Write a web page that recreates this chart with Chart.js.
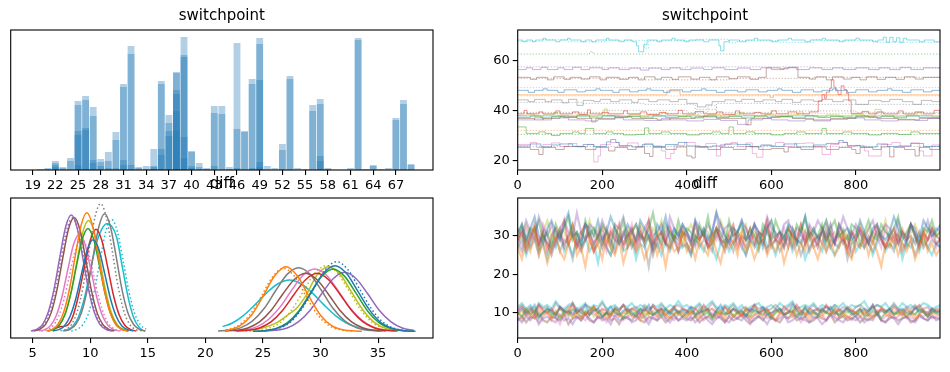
<!DOCTYPE html>
<html>
<head>
<meta charset="utf-8">
<script src="https://cdn.jsdelivr.net/npm/chart.js@4.4.1/dist/chart.umd.min.js"></script>
<style>
  body { margin: 0; background: #fff; }
  #painel { position: relative; width: 950px; height: 372px; }
  #painel canvas { position: absolute; }
</style>
</head>
<body>
<div id="painel">
  <canvas id="histSwitch" width="445" height="200" style="left:0;top:0"></canvas>
  <canvas id="traceSwitch" width="480" height="200" style="left:470px;top:0"></canvas>
  <canvas id="kdeDiff" width="445" height="204" style="left:0;top:168px"></canvas>
  <canvas id="traceDiff" width="480" height="204" style="left:470px;top:168px"></canvas>
</div>
<script>
// ---- switchpoint: histograma por cadeia (camadas sobrepostas, ordenadas da mais alta) ----
var switchValores = [20,21,22,23,24,25,26,27,28,29,30,31,32,33,34,35,36,37,38,39,40,41,42,43,44,45,46,47,48,49,50,51,52,53,54,55,56,57,58,59,60,61,62,63,64,65,66,67,68,69];
var switchCamada1 = [3,6,27,9,36,207,222,189,33,54,114,258,372,9,12,63,267,165,294,399,57,21,6,192,192,9,381,117,273,396,12,6,78,282,6,3,195,213,6,0,0,6,396,3,15,3,6,156,210,18];
var switchCamada2 = [0,3,21,6,27,195,210,162,24,27,90,249,348,6,3,12,258,141,291,345,54,9,3,171,168,3,123,114,258,378,0,0,60,273,0,0,177,198,3,0,0,0,390,0,12,0,0,150,198,15];
var switchCamada3 = [0,0,15,0,0,117,126,30,12,5,5,30,15,0,0,9,63,117,240,339,12,0,0,12,0,0,6,0,6,270,0,0,0,0,0,0,0,42,0,0,0,0,0,0,0,0,0,0,0,0];
var switchCamada4 = [0,0,9,0,0,105,120,21,0,0,0,15,0,0,0,3,45,102,228,99,6,0,0,0,0,0,0,0,0,24,0,0,0,0,0,0,0,27,0,0,0,0,0,0,0,0,0,0,0,0];
var switchCamada5 = [0,0,0,0,0,15,0,0,0,0,0,0,0,0,0,0,0,0,177,35,0,0,0,0,0,0,0,0,0,9,0,0,0,0,0,0,0,0,0,0,0,0,0,0,0,0,0,0,0,0];
var switchCamada6 = [0,0,0,0,0,0,0,0,0,0,0,0,0,0,0,0,0,0,117,0,0,0,0,0,0,0,0,0,0,0,0,0,0,0,0,0,0,0,0,0,0,0,0,0,0,0,0,0,0,0];
var switchTicks = [19,22,25,28,31,34,37,40,43,46,49,52,55,58,61,64,67];

// ---- switchpoint: traco de cada cadeia, pares [draw, valor] nos pontos de mudanca ----
var swCianoA = [[0,68.3],[12,67.6],[20,68.3],[35,67.6],[42,68.3],[60,69],[66,68.3],[90,67.6],[100,68.3],[118,69],[124,68.3],[150,67.6],[160,68.3],[175,67.6],[185,68.3],[210,69],[216,68.3],[240,67.6],[252,68.3],[270,67.6],[281,66],[286,63.6],[298,66.4],[306,68.3],[330,67.6],[340,68.3],[365,69],[372,68.3],[395,67.6],[405,68.3],[440,67.6],[452,68.3],[476,66],[480,64],[488,67.6],[500,68.3],[525,67.6],[540,68.3],[560,69],[568,68.3],[600,67.6],[615,68.3],[640,69],[648,68.3],[680,67.6],[692,68.3],[720,69],[728,68.3],[760,67.6],[772,68.3],[800,69],[808,68.3],[840,67.6],[852,68.3],[865,69.4],[872,67.4],[880,69.4],[888,67.6],[896,69.2],[904,67.4],[912,69],[920,68.3],[950,67.6],[962,68.3],[985,67.6],[999,67.6]];
var swCianoB = [[0,67.8],[60,68.4],[120,67.6],[210,68.2],[300,65],[310,68],[420,68.6],[500,67.2],[520,68],[620,67.4],[700,68.4],[720,68],[850,67.4],[999,68]];
var swVerdeA = [[0,62.7],[170,63.6],[178,62.7],[999,62.7]];
var swRoxoA = [[0,56.5],[20,57.2],[35,56.5],[55,57.4],[70,56.5],[95,57.2],[110,56.5],[130,57.4],[150,56.5],[170,57.2],[200,56.5],[215,57.2],[240,56.5],[265,57.1],[290,56.3],[310,57.1],[340,56.5],[360,57.2],[385,56.5],[410,57.1],[440,56.5],[460,57.2],[490,56.5],[520,57.1],[550,56.5],[575,57.2],[600,56.5],[630,57.2],[660,56.5],[690,57.2],[720,56.5],[745,57.2],[770,56.5],[800,57.2],[830,56.5],[855,57.2],[880,56.5],[905,57.4],[930,56.5],[960,57.2],[999,56.6]];
var swRoxoB = [[0,57.6],[200,57.2],[400,57.6],[700,57.2],[999,57.4]];
var swMarromA = [[0,53.4],[30,52.6],[45,53.4],[70,52.4],[85,53.6],[110,52.6],[125,53.4],[150,52.7],[170,53.6],[195,52.4],[210,53.4],[240,52.6],[262,53.4],[285,52.4],[300,53.6],[325,52.7],[340,53.4],[365,52.6],[380,53.6],[410,52.7],[430,53.4],[455,52.4],[470,53.6],[500,52.8],[520,53.6],[550,52.6],[570,53.4],[588,57.2],[620,56.8],[640,57.4],[663,53.4],[690,52.7],[705,53.6],[730,52.4],[745,53.6],[770,52.7],[790,53.4],[810,52.4],[825,53.6],[850,52.6],[870,53.4],[895,52.6],[915,53.6],[940,52.7],[960,53.4],[999,53.4]];
var swMarromB = [[0,53],[300,52.4],[500,53],[700,53.4],[999,52.8]];
var swRosaA = [[0,49.3],[999,49.3]];
var swAzulA = [[0,48.2],[25,47.4],[40,48.2],[60,48.8],[70,48.2],[95,47.4],[110,48.4],[140,47.6],[160,48.2],[185,48.8],[195,48.2],[225,47.4],[240,48.4],[265,47.6],[285,48.2],[305,48.8],[315,48.2],[345,47.4],[360,48.4],[390,47.6],[410,48.2],[435,48.8],[445,48.2],[470,47.4],[490,48.2],[520,47.6],[540,48.4],[570,47.6],[590,48.2],[615,48.8],[625,48.2],[650,47.4],[670,48.4],[700,47.6],[720,48.2],[745,48.8],[755,48.2],[780,47.4],[800,48.4],[830,47.6],[850,48.2],[875,48.8],[885,48.2],[910,47.4],[930,48.4],[960,47.6],[980,48.2],[999,48]];
var swLaranjaA = [[0,46.4],[353,48],[384,46.4],[597,45.4],[605,46.4],[999,46.4]];
var swLaranjaB = [[0,46],[999,46]];
var swCinzaA = [[0,44.4],[25,43.7],[40,44.6],[65,43.7],[80,44.4],[105,43.2],[120,44.6],[140,42.2],[155,44.2],[180,43.7],[195,44.6],[220,43.7],[240,44.4],[270,43.4],[285,44.6],[310,43.7],[330,44.4],[360,43.7],[380,44.6],[400,43],[425,41.6],[445,42.4],[460,43.7],[490,44.4],[515,43.7],[530,44.6],[560,43.7],[580,44.4],[610,43.7],[625,44.6],[650,43.4],[670,44.4],[700,43.8],[720,44.6],[745,43.7],[770,44.4],[800,42.6],[830,44.2],[860,43.7],[880,44.6],[910,43.7],[935,42.6],[955,44.2],[980,43.7],[999,44.4]];
var swCinzaB = [[0,43.4],[150,43],[300,42.6],[420,40.6],[470,43],[650,42.6],[999,43]];
var swVermelhoA = [[0,38.8],[15,40.2],[22,38.8],[50,39.6],[60,38.8],[90,40],[100,38.8],[130,39.6],[145,38.6],[165,40.4],[172,38.8],[200,39.4],[215,38.8],[250,40],[260,38.8],[290,39.6],[305,38.6],[335,39.4],[350,38.8],[380,40.2],[390,38.8],[420,39.8],[440,38.8],[470,39.6],[485,38.6],[515,40],[525,38.8],[560,39.4],[575,38.8],[600,40],[612,38.8],[640,39.6],[660,38.8],[690,39.6],[711,44],[720,46.5],[726,45],[730,47.5],[738,49],[742,52.4],[748,49.5],[752,48],[758,46.5],[765,50],[772,48.5],[778,47],[783,44],[789,39],[815,39.8],[830,38.8],[850,39.6],[865,38.8],[900,40],[912,38.8],[940,39.6],[960,38.8],[985,40.2],[999,38.8]];
var swOlivaA = [[0,38.2],[20,38.8],[40,37.6],[60,38.4],[85,39.4],[95,38.2],[120,37.6],[140,38.6],[170,37.8],[190,38.4],[205,40.8],[212,38.2],[240,37.6],[265,38.6],[290,37.8],[310,38.4],[340,39.2],[355,38.2],[380,37.6],[400,38.4],[430,37.8],[450,38.6],[480,37.6],[500,38.4],[525,39.4],[535,38.2],[560,37.6],[585,38.6],[610,37.8],[640,38.4],[665,39.6],[675,38.2],[700,37.6],[730,38.4],[760,37.6],[790,38.6],[820,37.8],[845,40.6],[860,38.2],[890,37.6],[920,38.4],[945,39.4],[955,38.2],[980,37.6],[999,38.4]];
var swCianoC = [[0,38],[999,38]];
var swVerdeB = [[0,37.4],[30,38],[55,37.2],[80,37.8],[110,37.4],[140,38],[170,37.2],[200,38],[230,37.4],[260,37.8],[290,37.2],[320,38],[350,37.4],[380,37.8],[410,37.2],[440,38],[470,37.4],[500,37.8],[530,37.2],[560,38],[590,37.4],[620,37.8],[650,37.2],[680,38],[710,37.4],[740,37.8],[770,37.2],[800,38],[830,37.4],[860,37.8],[890,37.2],[920,38],[950,37.4],[999,37.8]];
var swLaranjaC = [[0,39],[999,39]];
var swCinzaD = [[0,39.4],[200,40.2],[400,39.4],[450,42],[470,39.4],[600,40],[800,39.4],[999,39.4]];
var swRoxoC = [[0,36.4],[40,37.2],[60,36.4],[80,37.2],[120,36.4],[160,36],[190,36.6],[230,37.2],[250,36.4],[300,36.2],[340,37],[360,36.4],[400,36],[440,36.6],[480,36.2],[520,34.6],[545,36.4],[580,37],[600,36.4],[640,36],[680,36.6],[700,36],[740,36.6],[780,37.2],[820,36.4],[860,36],[900,36.6],[940,36.2],[970,37],[999,36.4]];
var swMarromD = [[0,37],[40,36.4],[60,37],[100,37.6],[140,37],[175,35.6],[185,37],[230,37.6],[270,37],[330,36.4],[360,37],[420,37.6],[470,37],[540,34.4],[552,37],[600,37.6],[650,37],[700,36.4],[740,37],[800,37.6],[850,37],[900,36.4],[950,37],[999,37]];
var swLaranjaD = [[0,32.2],[999,32.2]];
var swVerdeC = [[0,33.6],[20,31],[50,31.6],[65,31],[80,30.2],[100,31],[130,31.6],[145,31],[160,33],[180,31],[210,31.6],[225,31],[250,30.4],[280,30.6],[300,33.2],[310,31],[340,31.6],[360,31],[400,30.4],[430,31],[460,31.6],[480,31],[500,33.6],[510,31],[540,31.6],[560,31],[600,30.4],[630,31],[660,31.6],[680,31],[700,31],[720,33],[730,31],[770,31.6],[790,31],[830,30.4],[860,31],[900,30.6],[930,31.6],[950,31],[999,31]];
var swVerdeD = [[0,30.6],[999,30.6]];
var swRosaB = [[0,26.6],[30,27.4],[45,25.4],[60,26.6],[80,27.2],[100,25.8],[120,27],[140,25.6],[165,26.6],[180,19.6],[190,22],[196,26.6],[220,27.4],[240,25.8],[260,27.2],[285,25.8],[300,27],[320,26],[340,24],[350,21],[362,23],[370,26.2],[395,27.4],[420,25.6],[445,27],[470,22],[480,26.6],[505,27.4],[520,25.8],[540,27.2],[555,23],[565,21.5],[580,26.2],[610,27.4],[630,25.8],[655,27],[680,27.2],[700,25.8],[720,22.6],[740,26.6],[760,27.4],[780,25.8],[800,26.2],[820,24],[830,22],[860,26.6],[885,27.4],[905,25.8],[930,27.2],[950,24],[960,22],[980,26.4],[999,26.4]];
var swAzulB = [[0,26],[30,26.8],[55,25.6],[80,26.4],[100,26.8],[130,25.8],[155,26.6],[180,25.8],[210,27.6],[220,28.6],[232,27.4],[240,26.2],[270,25.6],[295,26.6],[320,25.8],[350,26.6],[380,27.4],[400,26],[430,25.6],[460,26],[490,26.8],[520,26.6],[550,25.6],[575,26.4],[600,25.8],[630,26.8],[660,25.6],[700,26.4],[730,27],[760,28.2],[770,27.4],[780,26.2],[810,25.6],[850,26.8],[875,25.8],[900,26],[930,27],[960,25.8],[999,26.4]];
var swMarromC = [[0,25.4],[30,24.6],[50,22.6],[60,25.4],[90,24.6],[110,25.8],[130,25.8],[160,24.6],[185,25.4],[215,24],[230,25.4],[260,24.6],[280,25.6],[300,23],[312,21.8],[320,25.4],[350,24.6],[375,25.6],[400,22],[412,21.2],[420,25.6],[450,24.6],[480,25.4],[510,24.6],[540,25.8],[570,24.6],[600,25],[630,23.6],[640,25.4],[670,24.6],[700,25.6],[730,24.6],[760,25.4],[790,24.6],[800,23],[810,25.4],[840,24.6],[860,25.6],[880,21.6],[890,25.4],[915,24.6],[940,22],[950,25.4],[975,24.6],[999,25.6]];
var swCinzaC = [[0,25.8],[999,25.8]];
var traceTicksX = [0,200,400,600,800];
var switchTicksY = [20,40,60];

// ---- diff: KDE por cadeia, pares [x, densidade relativa] ----
var kdeRoxoE = [[4.85,1],[5.35,6],[5.85,20],[6.35,57],[6.85,125],[7.35,220],[7.85,310],[8.35,347],[8.85,310],[9.35,220],[9.85,125],[10.35,57],[10.85,20],[11.35,6],[11.85,1]];
var kdeRoxoEPont = [[4.95,1],[5.45,6],[5.95,20],[6.45,55],[6.95,122],[7.45,215],[7.95,302],[8.45,338],[8.95,302],[9.45,215],[9.95,122],[10.45,55],[10.95,20],[11.45,6],[11.95,1]];
var kdeMarromE = [[5.1,1],[5.6,6],[6.1,20],[6.6,55],[7.1,122],[7.6,216],[8.1,304],[8.6,340],[9.1,304],[9.6,216],[10.1,122],[10.6,55],[11.1,20],[11.6,6],[12.1,1]];
var kdeRosaE = [[5.55,1],[6.05,5],[6.55,17],[7.05,47],[7.55,104],[8.05,184],[8.55,259],[9.05,290],[9.55,259],[10.05,184],[10.55,104],[11.05,47],[11.55,17],[12.05,5],[12.55,1]];
var kdeRosaEPont = [[5.75,1],[6.25,5],[6.75,16],[7.25,45],[7.75,99],[8.25,175],[8.75,246],[9.25,275],[9.75,246],[10.25,175],[10.75,99],[11.25,45],[11.75,16],[12.25,5],[12.75,1]];
var kdeLaranjaE = [[6.2,1],[6.7,6],[7.2,21],[7.7,58],[8.2,127],[8.7,225],[9.2,316],[9.7,354],[10.2,316],[10.7,225],[11.2,127],[11.7,58],[12.2,21],[12.7,6],[13.2,1]];
var kdeOlivaE = [[6.35,1],[6.85,6],[7.35,20],[7.85,54],[8.35,119],[8.85,210],[9.35,296],[9.85,331],[10.35,296],[10.85,210],[11.35,119],[11.85,54],[12.35,20],[12.85,6],[13.35,1]];
var kdeVerdeE = [[6.3,1],[6.8,5],[7.3,18],[7.8,50],[8.3,111],[8.8,195],[9.3,274],[9.8,307],[10.3,274],[10.8,195],[11.3,111],[11.8,50],[12.3,18],[12.8,5],[13.3,1]];
var kdeAzulE = [[6.75,1],[7.25,5],[7.75,16],[8.25,45],[8.75,98],[9.25,173],[9.75,244],[10.25,273],[10.75,244],[11.25,173],[11.75,98],[12.25,45],[12.75,16],[13.25,5],[13.75,1]];
var kdeVermelhoE = [[7.0,10],[7.5,14],[8.0,18],[8.5,46],[9.0,110],[9.5,194],[10.0,272],[10.5,305],[11.0,272],[11.5,194],[12.0,110],[12.5,50],[13.0,18],[13.5,5],[14.0,1]];
var kdeCinzaE = [[7.75,1],[8.25,6],[8.75,21],[9.25,57],[9.75,126],[10.25,223],[10.75,313],[11.25,351],[11.75,313],[12.25,223],[12.75,126],[13.25,57],[13.75,21],[14.25,6],[14.75,1]];
var kdeCinzaEPont = [[7.4,2],[7.9,6],[8.4,22],[8.9,62],[9.4,137],[9.9,242],[10.4,340],[10.9,381],[11.4,340],[11.9,242],[12.4,137],[12.9,62],[13.4,22],[13.9,6],[14.4,2],[14.9,1]];
var kdeCianoE = [[7.6,1],[8.0,5],[8.5,16],[9.0,45],[9.5,100],[10.0,180],[10.5,258],[11.0,305],[11.45,321],[11.9,312],[12.3,280],[12.8,190],[13.3,100],[13.8,38],[14.3,10],[14.6,2]];
var kdeCianoEPont = [[8.35,1],[8.85,6],[9.35,20],[9.85,54],[10.35,120],[10.85,212],[11.35,298],[11.85,334],[12.35,298],[12.85,212],[13.35,120],[13.85,54],[14.35,20],[14.85,6]];

var kdeLaranjaD = [[21.7,3],[22,4],[23,16],[24,48],[25,104],[26,165],[27,193],[28,165],[29,104],[30,48],[31,16],[32,4],[33,1],[33.6,0]];
var kdeLaranjaDPont = [[21.8,4],[22.8,16],[23.8,47],[24.8,101],[25.8,161],[26.8,188],[27.8,161],[28.8,101],[29.8,47],[30.8,16],[31.8,4],[32.8,1]];
var kdeCinzaD = [[21.1,1],[22.1,3],[23.1,11],[24.1,31],[25.1,68],[26.1,121],[27.1,170],[28.1,190],[29.1,170],[30.1,121],[31.1,68],[32.1,31],[33.1,11],[34.1,3],[35.1,1]];
var kdeMarromD = [[21.7,1],[22.7,3],[23.7,10],[24.7,28],[25.7,62],[26.7,110],[27.7,154],[28.7,173],[29.7,154],[30.7,110],[31.7,62],[32.7,28],[33.7,10],[34.7,3],[35.7,1]];
var kdeCianoD = [[21.5,14],[22.3,24],[23.3,47],[24.3,79],[25.3,114],[26.3,142],[27.3,153],[28.3,142],[29.3,114],[30.3,79],[31.3,47],[32.3,24],[33.3,11],[34.3,4],[35.3,1]];
var kdeVermelhoD = [[22.7,1],[23.7,3],[24.7,10],[25.7,28],[26.7,62],[27.7,110],[28.7,154],[29.7,173],[30.7,154],[31.7,110],[32.7,62],[33.7,28],[34.7,10],[35.7,3],[36.7,1]];
var kdeRosaD = [[22.5,1],[23.5,4],[24.5,14],[25.5,36],[26.5,73],[27.5,123],[28.5,168],[29.5,186],[30.5,168],[31.5,123],[32.5,73],[33.5,36],[34.5,14],[35.5,4],[36.5,1]];
var kdeOlivaD = [[23.2,2],[24.2,5],[25.2,12],[26.2,26],[27.2,50],[27.9,68],[28.7,105],[29.7,168],[30.7,193],[31.7,170],[32.7,117],[33.7,63],[34.7,26],[35.7,8],[36.7,2]];
var kdeOlivaDPont = [[23.5,0],[24.5,2],[25.5,9],[26.5,26],[27.5,64],[28.5,119],[29.5,173],[30.5,196],[31.5,173],[32.5,119],[33.5,64],[34.5,26],[35.5,9],[36.5,2]];
var kdeVerdeD = [[24.1,0],[25.1,2],[26.1,8],[27.1,25],[28.1,60],[29.1,113],[30.1,164],[31.1,186],[32.1,164],[33.1,113],[34.1,60],[35.1,25],[36.1,8],[37.1,2],[38.1,0]];
var kdeAzulD = [[24.25,0],[25.25,2],[26.25,9],[27.25,26],[28.25,64],[29.25,119],[30.25,173],[31.25,196],[32.25,173],[33.25,119],[34.25,64],[35.25,26],[36.25,9],[37.25,2],[38.25,0]];
var kdeAzulDPont = [[25.4,2],[26.4,9],[27.4,28],[28.4,68],[29.4,126],[30.4,183],[31.4,208],[32.4,183],[33.4,126],[34.4,68],[35.4,28],[36.4,9],[37.4,2]];
var kdeRoxoD = [[25.1,1],[26.1,3],[27.1,10],[28.1,29],[29.1,63],[30.1,112],[31.1,157],[32.1,176],[33.1,157],[34.1,112],[35.1,63],[36.1,29],[37.1,10],[38.1,3]];
var kdeTicksX = [5,10,15,20,25,30,35];

// ---- diff: traco de cada cadeia, um valor a cada 10 draws ----
var diffDraws = [0,10,20,30,40,50,60,70,80,90,100,110,120,130,140,150,160,170,180,190,200,210,220,230,240,250,260,270,280,290,300,310,320,330,340,350,360,370,380,390,400,410,420,430,440,450,460,470,480,490,500,510,520,530,540,550,560,570,580,590,600,610,620,630,640,650,660,670,680,690,700,710,720,730,740,750,760,770,780,790,800,810,820,830,840,850,860,870,880,890,900,910,920,930,940,950,960,970,980,990,1000];
var diffSup0 = [31,33,29,32,35,30,28,32,34,31,29,33,36,30,31,28,33,32,30,34,29,31,35,32,28,30,33,31,29,34,32,30,27,33,31,35,29,32,30,33,31,28,34,30,32,29,31,36,33,30,28,32,31,34,29,30,33,31,27,32,34,30,31,29,33,32,28,31,35,30,32,29,31,34,30,28,33,31,32,29,30,34,31,28,32,33,30,29,31,35,32,30,28,33,31,29,34,32,30,31,33];
var diffSup1 = [27,24,29,26,31,25,28,23,27,30,26,24,28,32,25,27,22,29,26,28,24,30,27,25,29,23,27,31,26,28,24,27,30,25,28,22,29,26,27,31,26,28,24,29,27,25,30,26,23,28,27,29,25,31,26,28,24,27,30,25,28,26,29,23,27,30,25,28,26,32,27,24,28,26,29,25,27,31,26,24,28,27,30,25,29,26,22,28,27,30,25,28,26,29,24,27,31,26,28,25,27];
var diffSup2 = [30,33,28,32,31,34,29,31,27,33,30,32,35,29,31,28,34,30,32,29,33,31,27,32,30,34,28,31,33,30,29,32,36,30,28,33,31,29,34,30,32,31,28,33,30,35,29,32,31,28,34,30,31,33,29,32,30,27,33,31,29,34,31,30,32,28,33,31,35,29,31,30,33,28,32,34,30,31,29,33,32,28,31,34,30,29,33,31,30,32,35,29,31,33,30,28,32,31,34,30,31];
var diffSup3 = [29,32,27,30,33,28,31,26,30,32,29,34,28,30,27,31,33,29,26,30,32,28,31,29,33,27,30,32,28,31,29,34,27,30,31,28,32,29,26,31,30,28,33,29,31,27,30,32,29,28,31,33,27,30,29,32,28,31,30,34,28,29,31,27,32,30,29,33,28,31,30,27,32,29,31,28,33,30,26,31,29,32,30,28,31,33,29,27,30,32,28,31,29,33,30,27,31,29,32,30,29];
var diffSup4 = [32,30,34,31,29,35,32,30,33,28,32,34,31,30,36,31,29,33,32,30,34,31,28,33,32,35,30,31,33,29,32,34,30,31,33,29,35,32,30,33,31,29,34,32,30,33,31,36,29,32,33,30,31,34,32,29,33,31,30,35,32,31,29,33,34,30,32,31,28,33,31,34,32,30,33,29,31,35,32,30,33,31,29,32,34,30,31,33,32,29,34,31,30,33,32,28,31,34,30,32,31];
var diffSup5 = [28,31,26,29,32,27,30,28,25,29,31,27,30,33,28,26,29,31,28,30,27,32,29,26,30,28,31,27,29,32,28,30,25,29,31,28,27,30,29,32,28,26,30,29,31,27,28,32,29,26,30,28,31,29,27,30,33,28,29,26,31,29,28,30,27,32,29,28,31,26,29,30,28,32,27,29,31,28,30,25,29,31,27,30,28,32,29,27,30,28,31,26,29,30,28,31,27,29,32,28,29];
var diffSup6 = [30,27,32,29,31,28,33,30,26,29,32,28,30,31,27,29,33,30,28,31,29,26,32,30,28,31,29,33,27,30,29,32,28,30,27,31,33,29,28,30,31,29,27,32,30,28,31,29,33,30,28,31,30,27,32,29,30,28,31,33,29,30,28,32,29,27,31,30,29,32,28,30,31,29,33,28,30,29,27,31,30,32,28,29,31,30,27,32,29,30,28,31,29,33,30,28,31,29,30,27,30];
var diffSup7 = [28,26,30,27,29,25,31,28,27,30,26,29,28,24,30,27,29,31,26,28,30,27,25,29,28,31,27,29,26,30,28,22,29,27,30,28,26,29,31,27,28,25,30,27,29,28,26,31,28,27,29,26,30,28,25,29,27,30,28,32,27,29,26,28,30,27,29,25,28,30,27,28,31,26,29,28,27,30,24,28,29,27,30,28,26,29,31,27,28,26,30,28,27,29,25,28,30,27,29,28,27];
var diffSup8 = [31,29,33,30,32,28,31,34,30,29,32,31,28,33,30,31,29,34,30,32,28,31,30,33,29,31,32,28,30,33,31,29,32,30,34,29,31,30,32,28,31,33,30,29,32,31,28,30,34,31,29,32,30,31,33,28,31,30,29,32,34,30,31,29,32,30,28,33,31,30,32,29,31,34,30,31,29,32,30,28,31,33,30,32,29,31,30,34,28,31,30,32,29,31,33,30,28,32,31,30,31];
var diffSup9 = [27,29,25,28,30,26,28,24,29,27,31,26,28,25,29,27,30,26,28,23,29,27,25,28,30,26,27,29,24,28,27,30,26,28,25,29,27,31,26,28,27,25,29,28,26,30,27,24,28,29,26,28,30,27,25,29,28,26,31,27,28,25,29,27,30,26,28,29,24,27,29,28,26,30,27,25,28,29,27,31,26,28,27,29,25,28,30,26,28,27,29,24,28,27,30,26,29,27,25,28,27];
var diffInf0 = [10,11,9.5,10.5,12,9,10,11,10.5,9,11.5,10,10.5,9.5,11,10,12,9.5,10.5,11,9,10,11.5,10,9.5,10.5,11,10,9,11,10.5,12,9.5,10,11,10.5,9.5,11,10,10.5,10,11.5,9.5,10,10.5,11,9,10.5,12,10,9.5,11,10,10.5,9,11,10.5,10,11.5,9.5,10,10.5,11,9.5,10,12,10.5,9,11,10,10.5,9.5,11,10,11.5,10,9.5,10.5,11,10,9,10.5,11,10,12,9.5,10.5,10,11,9.5,10.5,11,10,9.5,11.5,10,10.5,9,11,10,10.5];
var diffInf1 = [9.5,10.5,9,10,8.5,11,9.5,10,8,10.5,9,9.5,11,9,10,8.5,10,9.5,11.5,9,10,8.5,9.5,10.5,9,10,11,9,9.5,8,10,9.5,10.5,9,11,9.5,8.5,10,9.5,10,9,10.5,9.5,8.5,10,11,9,9.5,10,8.5,10.5,9,10,9.5,11,8.5,9.5,10,9,10.5,9.5,8,10,9.5,10.5,9,11,9.5,10,8.5,10,9.5,9,10.5,9.5,11,9,10,8.5,9.5,10,9,10.5,9.5,8.5,10,11,9.5,9,10,9.5,10.5,9,10,8.5,9.5,10.5,9,10,9.5,9.5];
var diffInf2 = [10,9,11,9.5,10.5,8.5,10,11,9.5,10,8.5,10.5,9.5,11,10,9,10.5,9.5,11.5,10,9,10,9.5,11,10,8.5,10.5,9.5,10,11,9,10,9.5,10.5,9,11,10,9.5,10.5,9,10,10.5,9,11,9.5,10,8.5,10.5,10,9.5,11,9,10,10.5,9.5,9,11,10,9.5,10.5,8.5,10,11,9.5,10,10.5,9,10,11.5,9.5,10,9,10.5,10,9.5,11,9,10,10.5,9.5,10,11,9,9.5,10.5,10,8.5,10,11,9.5,10,10.5,9,10,9.5,11,10,9,10.5,10,9.5];
var diffInf3 = [10.5,11.5,10,11,9.5,12,10.5,10,11,9.5,11.5,10.5,10,12.5,10,11,9.5,10.5,11.5,10,11,10.5,9,11,10.5,12,10,11,10.5,9.5,11,10,12,10.5,11,9.5,10.5,11.5,10,11,10.5,9.5,11,10,12,10.5,11,10,9.5,11.5,10,11,10.5,9,11,10.5,12,10,10.5,11,9.5,11,10,11.5,10.5,10,12,10.5,9.5,11,10.5,11,10,12,10.5,9.5,11,10,11.5,10.5,10,11,9.5,10.5,12,10,11,10.5,10,11.5,10.5,9.5,11,10,11,12,10.5,10,11,10.5,10.5];
var diffInf4 = [8.5,7.5,9,8,9.5,7,8.5,9,8,7.5,9.5,8,8.5,7,9,8,10,8.5,7.5,9,8,8.5,7,9.5,8,8.5,9,7.5,8,9,8.5,7,9,8,10,8.5,7.5,9,8,8.5,8,9,7.5,8.5,9.5,8,7,8.5,9,8,7.5,9,8.5,8,9.5,7.5,8,9,8.5,7,9,8,8.5,9.5,7.5,8,9,8.5,8,7.5,9,8.5,7,8,9.5,8.5,8,7.5,9,8.5,8,9,7.5,8.5,8,10,8,7.5,9,8.5,7,8.5,9,8,7.5,9,8.5,8,9.5,8,8.5];
var diffInf5 = [8,9,7.5,9,8.5,10,8,7.5,9,8.5,8,9.5,7,8.5,9,8,9.5,8,7.5,9,8.5,10,8,8.5,7,9,8.5,8,9.5,8,7.5,9,8.5,8,9,7.5,8.5,9.5,8,9,8.5,8,9,7.5,8.5,9,8,9.5,8.5,7.5,9,8,8.5,9.5,8,7,8.5,9,8,9.5,8.5,8,7.5,9,8.5,10,8,8.5,9,7.5,8,9,8.5,8,9.5,7.5,8.5,9,8,8.5,9,7.5,8.5,8,9,9.5,8,7.5,8.5,9,8,8.5,9,7.5,8,9.5,8.5,8,9,8.5,8.5];
var diffInf6 = [9,8,10,8.5,9.5,7.5,9,10,8.5,9,7,9.5,9,10.5,8.5,9,8,9.5,10,8.5,9,7.5,9.5,9,10,8,9,9.5,8.5,10,9,8,9.5,9,10.5,8.5,9,8,9.5,9,10,8.5,9,9.5,8,9,10,8.5,9.5,7.5,9,9.5,8.5,10,9,8,9.5,9,10.5,8.5,9,8,9.5,10,8.5,9,9.5,7.5,9,10,8.5,9,9.5,8,10,9,8.5,9.5,9,8,10,9,8.5,9.5,9,10.5,8,9,9.5,8.5,9,10,8.5,9,8,9.5,9,10,8.5,9,9];
var diffInf7 = [11,12,10.5,11.5,10,12,11,11.5,10,12.5,11,10.5,11.5,12,10,11,12,11.5,10.5,11,12.5,11,10,11.5,11,12,10.5,11,11.5,10,12,11,11.5,10.5,12,11,10,11.5,12,11,10.5,11.5,11,12,10,11,12.5,11,10.5,11.5,11,12,10.5,11,11.5,10,12,11,11.5,10.5,11,12,11,10.5,11.5,12.5,11,10,11.5,11,12,10.5,11,11.5,11,12,10.5,11.5,11,10,11.5,12,11,10.5,11,12,11.5,10.5,11,12.5,11,10.5,11.5,11,12,10.5,11,11.5,10,11,11];
var diffInf8 = [10,9,10.5,9.5,11,9,10,10.5,9,10,11,9.5,10,8.5,10.5,10,9.5,11,9,10,10.5,9.5,10,11,9,10,9.5,10.5,10,9,11,10,9.5,10,10.5,9,10,11,9.5,10,9,10.5,10,9.5,11,10,9,10,10.5,9.5,10,11,9.5,10,9,10.5,10,9.5,11,10,9,10,10.5,9.5,10,11,9.5,10,9,10.5,10,9.5,11,10,9.5,10,10.5,9,10,11,9.5,10,10.5,9,10,9.5,11,10,9.5,10.5,10,9,10,10.5,9.5,11,10,9.5,10,10.5,10];
var diffInf9 = [11.5,12.5,11,12,10.5,12.5,11.5,12,11,13,11.5,11,12,12.5,11,11.5,12.5,11,12,11.5,13,11,11.5,12,10.5,12,11.5,12.5,11,12,11.5,10.5,12,11.5,12.5,11,12,11.5,13,11.5,12,11,11.5,12.5,11,12,13,11.5,11,12,11.5,12.5,11,12,10.5,11.5,12,12.5,11,11.5,12,11,12.5,11.5,12,13,11,11.5,12,11.5,12.5,11,12,11.5,10.5,12,11.5,12.5,11,12,11.5,12,13,11,11.5,12,11.5,12.5,11,12,11,12.5,11.5,12,11,11.5,12.5,12,11,11.5,12];
var diffTicksY = [10,20,30];

var Painel = Painel || {};

Painel.estilo = (function() {

	var tab10 = ['31,119,180','255,127,14','44,160,44','214,39,40','148,103,189','140,86,75','227,119,194','127,127,127','188,189,34','23,190,207'];

	function cor(i, alfa) {
		return 'rgba(' + tab10[i] + ',' + alfa + ')';
	}

	// caixa completa em volta da area do grafico, como no matplotlib
	var moldura = {
		id: 'moldura',
		afterDraw: function(chart) {
			var a = chart.chartArea, ctx = chart.ctx;
			ctx.save();
			ctx.strokeStyle = '#000';
			ctx.lineWidth = 1.1;
			ctx.strokeRect(a.left, a.top, a.right - a.left, a.bottom - a.top);
			ctx.restore();
		}
	};

	function eixo(min, max, ticks, lado, espaco) {
		return {
			type: 'linear', min: min, max: max, offset: false,
			afterBuildTicks: function(s) {
				s.ticks = ticks.map(function(v) { return { value: v }; });
			},
			afterFit: function(s) {
				if (lado === 'x') { s.height = espaco; } else { s.width = espaco; }
			},
			grid: { display: true, drawOnChartArea: false, drawTicks: true, tickLength: 5, color: '#000', lineWidth: 1.1, offset: false },
			border: { display: false },
			ticks: { color: '#000', padding: 3, font: { size: 13 }, maxRotation: 0, autoSkip: false }
		};
	}

	function eixoOculto(min, max) {
		return { type: 'linear', min: min, max: max, display: false };
	}

	function opcoes(titulo, eixoX, eixoY, padding) {
		return {
			responsive: false,
			animation: false,
			devicePixelRatio: 1,
			layout: { padding: padding },
			plugins: {
				legend: { display: false },
				tooltip: { enabled: false },
				title: {
					display: true, text: titulo, color: '#000',
					font: { size: 15, weight: 'normal' },
					padding: { top: 7, bottom: 5 }
				}
			},
			scales: { x: eixoX, y: eixoY }
		};
	}

	function pontos(pares) {
		return pares.map(function(p) { return { x: p[0], y: p[1] }; });
	}

	return { cor: cor, moldura: moldura, eixo: eixo, eixoOculto: eixoOculto, opcoes: opcoes, pontos: pontos };

}());

(function() {
	var E = Painel.estilo;
	Chart.defaults.font.family = 'DejaVu Sans';
	Chart.defaults.font.size = 13;
	Chart.defaults.color = '#000';

	// histograma switchpoint
	var camadas = [switchCamada1, switchCamada2, switchCamada3, switchCamada4, switchCamada5, switchCamada6];
	new Chart(document.getElementById('histSwitch'), {
		type: 'bar',
		data: {
			datasets: camadas.map(function(camada) {
				return {
					data: switchValores.map(function(v, i) { return { x: v, y: camada[i] }; }),
					backgroundColor: E.cor(0, 0.35),
					borderWidth: 0,
					grouped: false,
					categoryPercentage: 1,
					barPercentage: 0.9
				};
			})
		},
		options: E.opcoes('switchpoint',
			E.eixo(16.1, 71.9, switchTicks, 'x', 30),
			E.eixoOculto(0, 420),
			{ left: 10.7, right: 12, top: 0, bottom: 0 }),
		plugins: [E.moldura]
	});

	// traco switchpoint: [dados, cor, pontilhado]
	var cadeiasSwitch = [
		[swAzulA, 0, false], [swAzulB, 0, false],
		[swLaranjaA, 1, false], [swLaranjaB, 1, true], [swLaranjaC, 1, true], [swLaranjaD, 1, true],
		[swVerdeA, 2, true], [swVerdeB, 2, false], [swVerdeC, 2, false], [swVerdeD, 2, true],
		[swVermelhoA, 3, false],
		[swRoxoA, 4, false], [swRoxoB, 4, true], [swRoxoC, 4, false],
		[swMarromA, 5, false], [swMarromB, 5, true], [swMarromC, 5, false], [swMarromD, 5, false],
		[swRosaA, 6, true], [swRosaB, 6, false],
		[swCinzaA, 7, false], [swCinzaB, 7, true], [swCinzaC, 7, true], [swCinzaD, 7, true],
		[swOlivaA, 8, false],
		[swCianoA, 9, false], [swCianoB, 9, true], [swCianoC, 9, false]
	];
	new Chart(document.getElementById('traceSwitch'), {
		type: 'line',
		data: {
			datasets: cadeiasSwitch.map(function(c) {
				return {
					data: E.pontos(c[0]),
					borderColor: E.cor(c[1], c[2] ? 0.6 : 0.5),
					borderWidth: 1,
					borderDash: c[2] ? [1, 2] : [],
					stepped: true,
					pointRadius: 0,
					fill: false
				};
			})
		},
		options: E.opcoes('switchpoint',
			E.eixo(0, 999, traceTicksX, 'x', 30),
			E.eixo(16.4, 72.3, switchTicksY, 'y', 47.7),
			{ left: 0, right: 10, top: 0, bottom: 0 }),
		plugins: [E.moldura]
	});

	// KDE diff: [dados, cor, pontilhado]
	var curvasKde = [
		[kdeAzulE, 0, false], [kdeLaranjaE, 1, false], [kdeVerdeE, 2, false], [kdeVermelhoE, 3, false],
		[kdeRoxoE, 4, false], [kdeMarromE, 5, false], [kdeRosaE, 6, false], [kdeCinzaE, 7, false],
		[kdeOlivaE, 8, false], [kdeCianoE, 9, false],
		[kdeRoxoEPont, 4, true], [kdeRosaEPont, 6, true], [kdeCinzaEPont, 7, true], [kdeCianoEPont, 9, true],
		[kdeAzulD, 0, false], [kdeLaranjaD, 1, false], [kdeVerdeD, 2, false], [kdeVermelhoD, 3, false],
		[kdeRoxoD, 4, false], [kdeMarromD, 5, false], [kdeRosaD, 6, false], [kdeCinzaD, 7, false],
		[kdeOlivaD, 8, false], [kdeCianoD, 9, false],
		[kdeAzulDPont, 0, true], [kdeLaranjaDPont, 1, true], [kdeOlivaDPont, 8, true]
	];
	new Chart(document.getElementById('kdeDiff'), {
		type: 'line',
		data: {
			datasets: curvasKde.map(function(c) {
				return {
					data: E.pontos(c[0]),
					borderColor: E.cor(c[1], 1),
					borderWidth: 1.5,
					borderDash: c[2] ? [1.5, 2.5] : [],
					cubicInterpolationMode: 'monotone',
					pointRadius: 0,
					fill: false
				};
			})
		},
		options: E.opcoes('diff',
			E.eixo(3.09, 39.77, kdeTicksX, 'x', 34),
			E.eixoOculto(-20, 398),
			{ left: 10.7, right: 12, top: 0, bottom: 0 }),
		plugins: [E.moldura]
	});

	// traco diff: linhas mais grossas para dar a densidade da faixa original
	var cadeiasDiff = [diffSup0, diffInf0, diffSup1, diffInf1, diffSup2, diffInf2, diffSup3, diffInf3,
		diffSup4, diffInf4, diffSup5, diffInf5, diffSup6, diffInf6, diffSup7, diffInf7,
		diffSup8, diffInf8, diffSup9, diffInf9];
	new Chart(document.getElementById('traceDiff'), {
		type: 'line',
		data: {
			datasets: cadeiasDiff.map(function(valores, i) {
				return {
					data: diffDraws.map(function(d, k) { return { x: d, y: valores[k] }; }),
					borderColor: E.cor(Math.floor(i / 2), 0.4),
					borderWidth: 2.2,
					pointRadius: 0,
					tension: 0,
					fill: false
				};
			})
		},
		options: E.opcoes('diff',
			E.eixo(0, 999, traceTicksX, 'x', 34),
			E.eixo(3.4, 39.9, diffTicksY, 'y', 47.7),
			{ left: 0, right: 10, top: 0, bottom: 0 }),
		plugins: [E.moldura]
	});
}());
</script>
</body>
</html>
